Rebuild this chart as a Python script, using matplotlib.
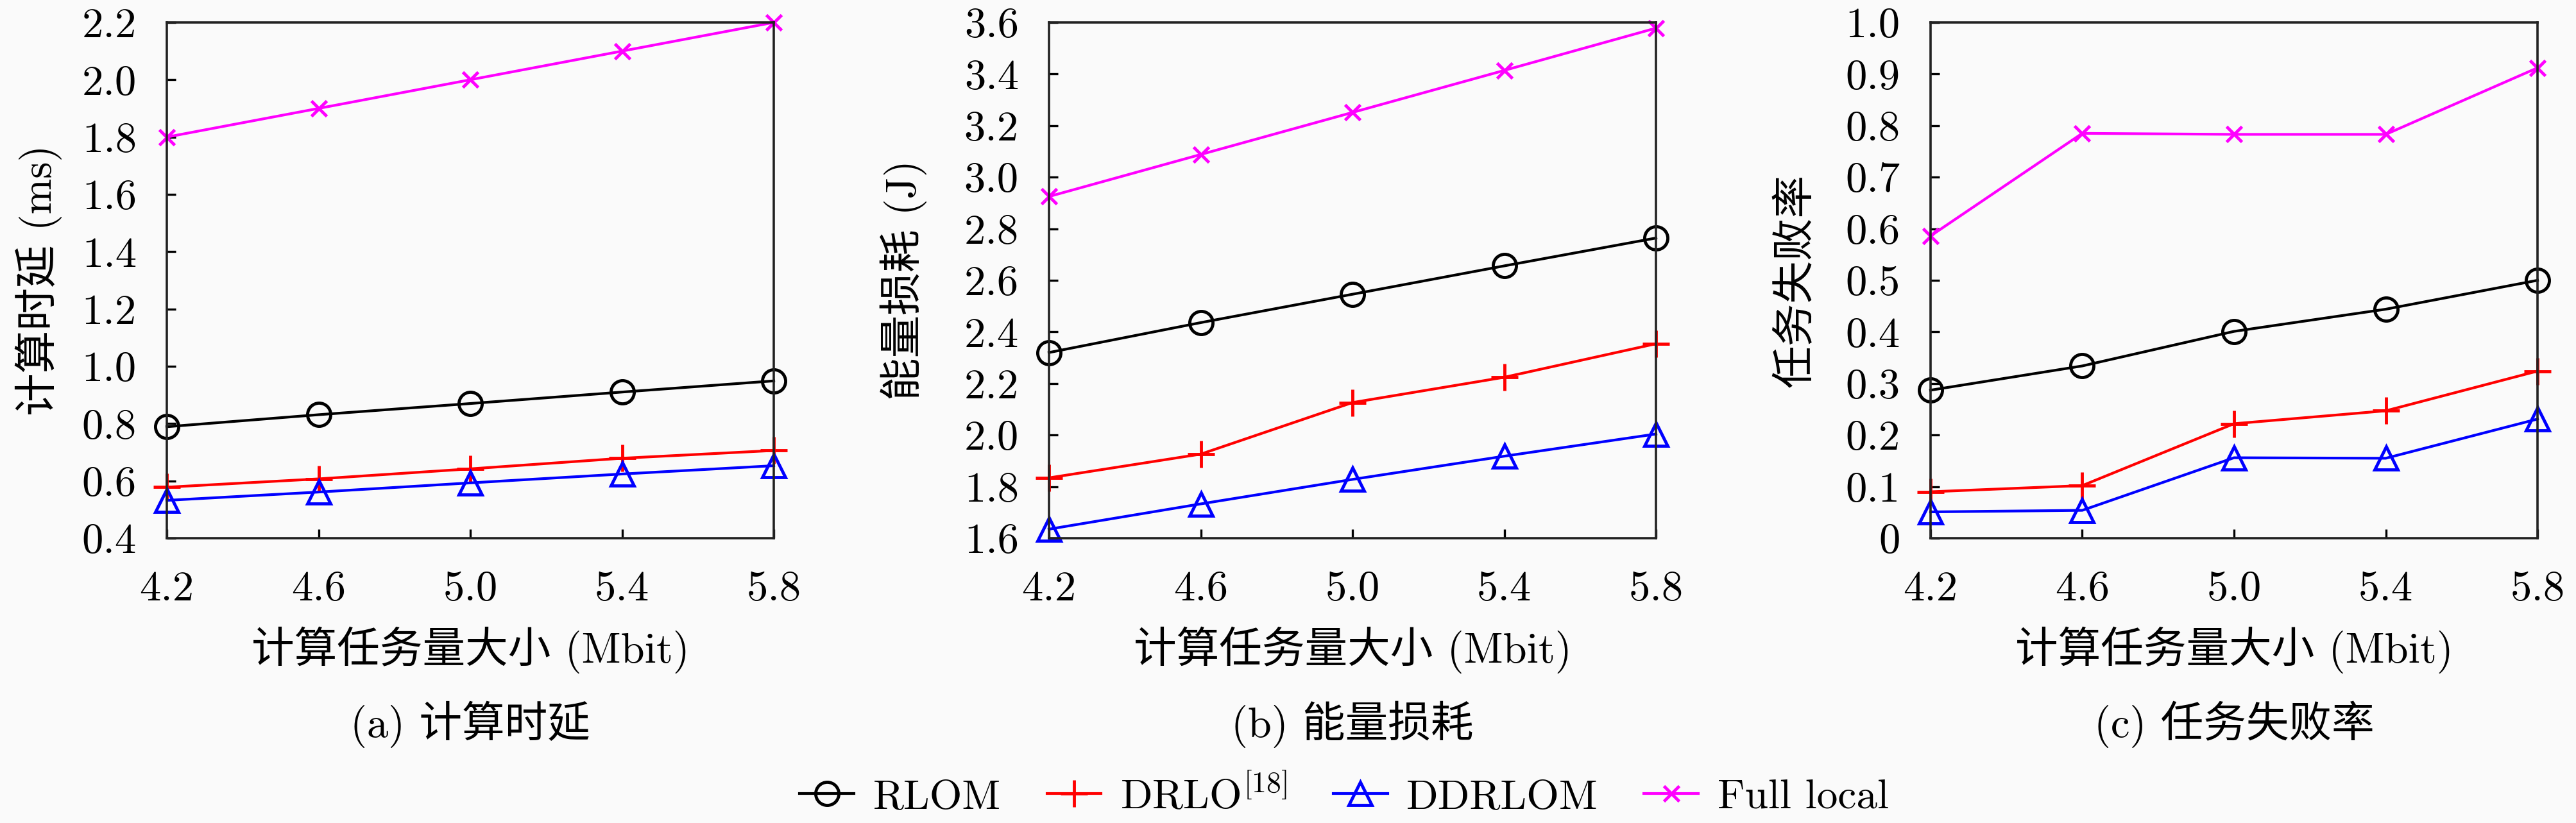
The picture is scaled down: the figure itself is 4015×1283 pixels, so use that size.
import matplotlib
matplotlib.use("Agg")
import matplotlib.pyplot as plt
from matplotlib.ticker import FuncFormatter

plt.rcParams['font.family'] = ['cmr10', 'Noto Sans CJK SC', 'DejaVu Sans']
plt.rcParams['mathtext.fontset'] = 'cm'
plt.rcParams['axes.formatter.use_mathtext'] = True
plt.rcParams['axes.unicode_minus'] = False

# 横轴：计算任务量大小 (Mbit)
task_size = [4.2, 4.6, 5.0, 5.4, 5.8]

# (a) 计算时延 (ms)
delay_rlom = [0.789, 0.831, 0.870, 0.910, 0.949]
delay_drlo = [0.578, 0.607, 0.642, 0.679, 0.706]
delay_ddrlom = [0.532, 0.561, 0.593, 0.624, 0.653]
delay_local = [1.80, 1.90, 2.00, 2.10, 2.20]

# (b) 能量损耗 (J)
energy_rlom = [2.320, 2.436, 2.546, 2.656, 2.764]
energy_drlo = [1.834, 1.926, 2.126, 2.224, 2.354]
energy_ddrlom = [1.635, 1.733, 1.828, 1.918, 2.004]
energy_local = [2.925, 3.088, 3.251, 3.414, 3.578]

# (c) 任务失败率
fail_rlom = [0.287, 0.334, 0.401, 0.444, 0.500]
fail_drlo = [0.090, 0.102, 0.222, 0.247, 0.324]
fail_ddrlom = [0.051, 0.054, 0.156, 0.155, 0.231]
fail_local = [0.586, 0.785, 0.783, 0.783, 0.912]

labels = ['RLOM', 'DRLO$^{[18]}$', 'DDRLOM', 'Full local']

panels = [
    ('计算时延 (ms)', '(a) 计算时延', [delay_rlom, delay_drlo, delay_ddrlom, delay_local],
     (0.4, 2.2), [0.4 + 0.2 * i for i in range(10)], -0.211),
    ('能量损耗 (J)', '(b) 能量损耗', [energy_rlom, energy_drlo, energy_ddrlom, energy_local],
     (1.6, 3.6), [1.6 + 0.2 * i for i in range(11)], -0.240),
    ('任务失败率', '(c) 任务失败率', [fail_rlom, fail_drlo, fail_ddrlom, fail_local],
     (0.0, 1.0), [0.1 * i for i in range(11)], -0.221),
]

styles = [
    dict(color='black', marker='o', markersize=26, markerfacecolor='none'),
    dict(color='#ff0000', marker='+', markersize=30),
    dict(color='#0000ff', marker='^', markersize=26, markerfacecolor='none'),
    dict(color='#ff00ff', marker='x', markersize=17),
]

W, H = 4016, 1283
fig = plt.figure(figsize=(W / 100, H / 100), dpi=100, facecolor='#fafafa')

lefts = [260, 1635, 3009]
fs = 48


def fmt(v, pos):
    if abs(v) < 1e-9:
        return '0'
    return '%.1f' % v


handles = []
for left, (ylab, sub, series, ylim, yticks, ylx) in zip(lefts, panels):
    ax = fig.add_axes([left / W, (H - 839) / H, 946 / W, 804 / H])
    ax.set_facecolor('#fafafa')
    handles = []
    for s, st, lab in zip(series, styles, labels):
        h, = ax.plot(task_size, s, linewidth=3, markeredgewidth=3.5, label=lab,
                     clip_on=False, **st)
        handles.append(h)
    ax.set_xlim(4.2, 5.8)
    ax.set_ylim(*ylim)
    ax.set_xticks(task_size)
    ax.set_yticks(yticks)
    ax.xaxis.set_major_formatter(FuncFormatter(fmt))
    ax.yaxis.set_major_formatter(FuncFormatter(fmt))
    ax.tick_params(direction='in', length=10, width=2.4, labelsize=fs,
                   top=False, right=False)
    ax.tick_params(axis='x', pad=36)
    ax.tick_params(axis='y', pad=34)
    for sp in ax.spines.values():
        sp.set_linewidth(2.6)
        sp.set_color('#222222')
    ax.set_xlabel('计算任务量大小 (Mbit)', fontsize=fs, labelpad=20, fontweight='light')
    ax.set_ylabel(ylab, fontsize=fs, va='center', fontweight='light')
    ax.yaxis.set_label_coords(ylx, 0.5)
    ax.text(0.5, -0.361, sub, transform=ax.transAxes, ha='center', va='center',
            fontsize=fs, fontweight='light')

fig.legend(handles, labels, loc='center', bbox_to_anchor=(2095 / W, (H - 1240) / H),
           ncol=4, frameon=False, fontsize=47, handlelength=1.3, handletextpad=0.45,
           columnspacing=1.1)

fig.savefig('out.png', dpi=100, facecolor=fig.get_facecolor())
